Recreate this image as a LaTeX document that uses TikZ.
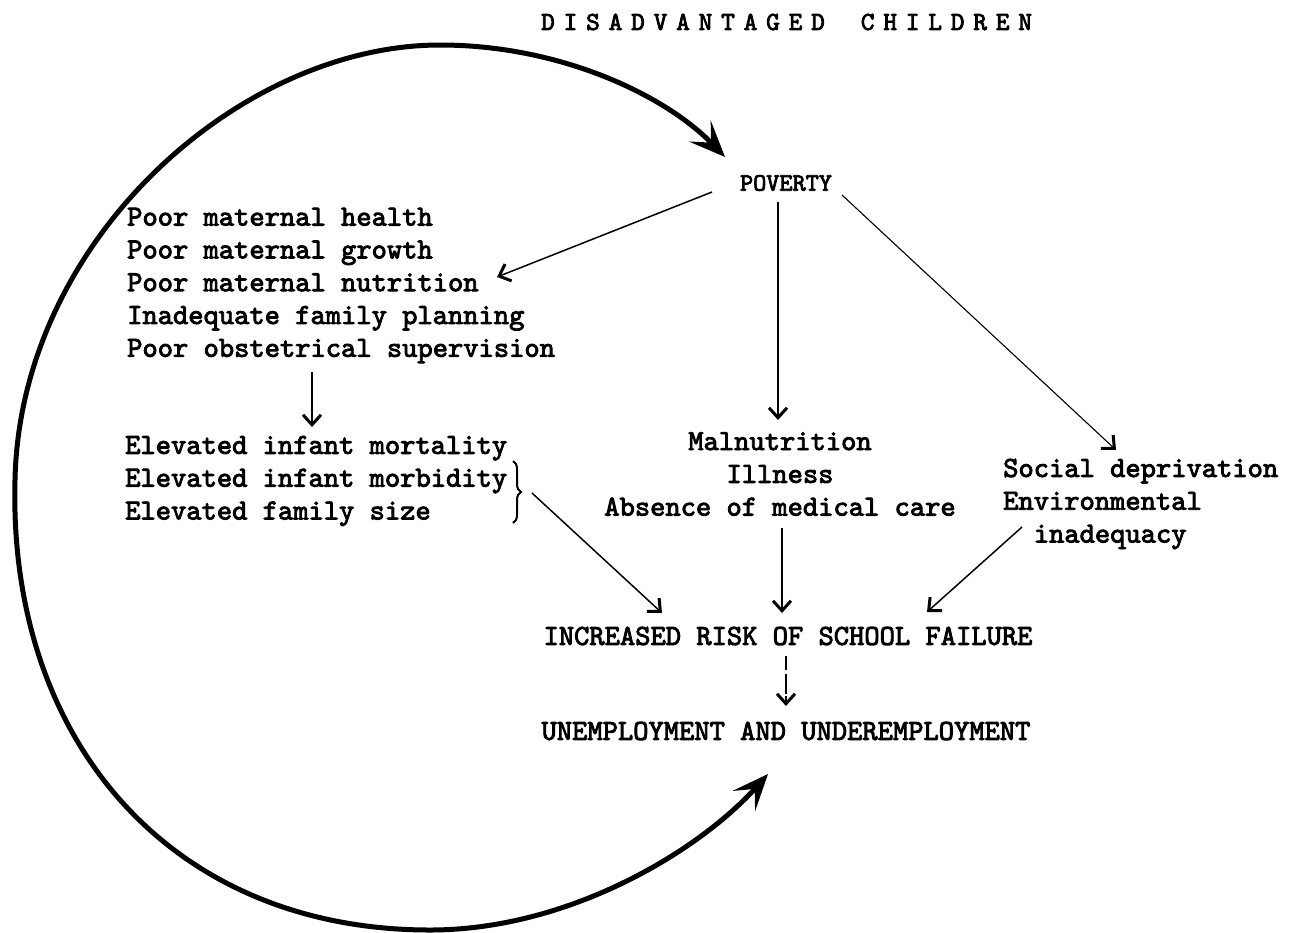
\documentclass[tikz,border=0pt]{standalone}
\usepackage{fontspec}
\newfontfamily\typew{lmmono10-regular.otf}[FakeBold=3]
\usetikzlibrary{arrows.meta,decorations.pathreplacing}
\begin{document}
\begin{tikzpicture}[x=1pt,y=-1pt,
  txt/.style={inner sep=0pt, font=\typew\fontsize{29.1}{32.8}\selectfont},
  arr/.style={line width=1.5pt, -{Straight Barb[length=10pt,width=18pt,line width=3pt]}},
  big/.style={line width=5pt, line cap=round,
     {Stealth[length=36pt,width=30pt,inset=16pt]}-{Stealth[length=36pt,width=30pt,inset=16pt]}}]
\useasboundingbox (0,0) rectangle (1295,932);

% texts
\node[txt, anchor=west, font=\typew\fontsize{26}{30}\selectfont] (title) at (541,22)
  {\spaceskip=8.85pt D I S A D V A N T A G E D\hspace{36pt}C H I L D R E N};
\node[txt, font=\typew\fontsize{25}{30}\selectfont] (pov) at (786,183) {POVERTY};
\node[txt, anchor=west, align=left] (mat) at (127,285.5)
  {Poor maternal health\\Poor maternal growth\\Poor maternal nutrition\\Inadequate family planning\\Poor obstetrical supervision};
\node[txt, anchor=west, align=left] (inf) at (125,481)
  {Elevated infant mortality\\Elevated infant morbidity\\Elevated family size};
\node[txt, align=center] (med) at (780,474)
  {Malnutrition\\Illness\\Absence of medical care};
\node[txt, anchor=west, align=left] (soc) at (1003,504)
  {Social deprivation\\Environmental\\\hspace*{30.6pt}inadequacy};
\node[txt] (risk) at (788,636) {INCREASED RISK OF SCHOOL FAILURE};
\node[txt] (unemp) at (786,731) {UNEMPLOYMENT AND UNDEREMPLOYMENT};

% connector ends
\coordinate (p1s) at (712,192);  \coordinate (p1e) at (497,277);
\coordinate (p2s) at (778,202);  \coordinate (p2e) at (778,420);
\coordinate (p3s) at (842,195);  \coordinate (p3e) at (1116,450);
\coordinate (m1s) at (312,372);  \coordinate (m1e) at (312,427);
\coordinate (brt) at (513,461);  \coordinate (brb) at (513,523);
\coordinate (bs) at (532,493);   \coordinate (be) at (662,613);
\coordinate (ms) at (782,528);   \coordinate (me) at (782,613);
\coordinate (es) at (1022,527);  \coordinate (ee) at (927,612);
\coordinate (rs) at (786,656);   \coordinate (re) at (786,706);
\coordinate (t1) at (725,157);   \coordinate (t2) at (768,774);

\draw[arr] (p1s) -- (p1e);
\draw[arr] (p2s) -- (p2e);
\draw[arr, line width=1.1pt] (p3s) -- (p3e);
\draw[arr] (m1s) -- (m1e);
\draw[line width=2pt, decorate, decoration={brace, amplitude=8pt}] (brt) -- (brb);
\draw[arr] (bs) -- (be);
\draw[arr] (ms) -- (me);
\draw[arr] (es) -- (ee);
\draw[arr, dash pattern=on 14pt off 4pt on 20pt off 2pt] (rs) -- (re);

% big cycle arc
\draw[big] (t1) .. controls (665,95) and (560,45) .. (440,45)
  .. controls (240,45) and (20,240) .. (15,480)
  .. controls (8,740) and (170,930) .. (430,930)
  .. controls (570,930) and (700,850) .. (t2);
\end{tikzpicture}
\end{document}
